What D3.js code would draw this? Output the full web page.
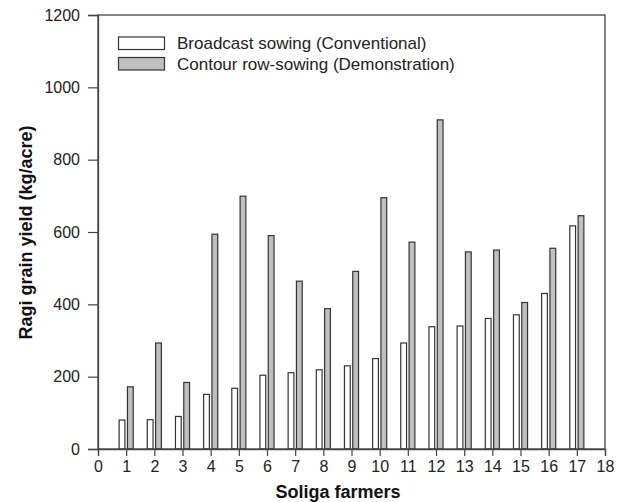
<!DOCTYPE html>
<html><head><meta charset="utf-8">
<script src="https://d3js.org/d3.v7.min.js"></script>
<style>body{margin:0;background:#fff}svg{display:block}text{font-family:"Liberation Sans",Arial,sans-serif}</style>
</head><body><svg id="c" width="617" height="502"></svg>
<script>
const farmers = [1,2,3,4,5,6,7,8,9,10,11,12,13,14,15,16,17];
const broadcast = [80,81,90,151,168,204,211,219,230,250,293,338,340,361,371,430,617];
const contour = [172,293,184,594,699,590,464,388,491,695,572,910,545,550,405,555,645];
const seriesNames = ["Broadcast sowing (Conventional)","Contour row-sowing (Demonstration)"];
const xTicks = d3.range(0,19);
const yTicks = [0,200,400,600,800,1000,1200];

const svg = d3.select("#c");
const L=98, R=605, T=15, B=449;
const x = d3.scaleLinear().domain([0,18]).range([L,R]);
const y = d3.scaleLinear().domain([0,1200]).range([B,T]);
const fills = ["#ffffff","#c0c0c0"];
const off = [[-0.25,-0.045],[0.045,0.25]];

[broadcast, contour].forEach((vals,si)=>{
  svg.append("g").selectAll("rect").data(farmers).join("rect")
    .attr("x",(d)=>x(d+off[si][0]))
    .attr("width",(d)=>x(d+off[si][1])-x(d+off[si][0]))
    .attr("y",(d,i)=>y(vals[i]))
    .attr("height",(d,i)=>y(0)-y(vals[i]))
    .attr("fill",fills[si]).attr("stroke","#333").attr("stroke-width",1.2);
});

// frame
svg.append("rect").attr("x",L).attr("y",T).attr("width",R-L).attr("height",B-T)
  .attr("fill","none").attr("stroke","#444").attr("stroke-width",1.3);

const xa = svg.append("g").attr("transform",`translate(0,${B})`)
  .call(d3.axisBottom(x).tickValues(xTicks).tickSize(7).tickFormat(d3.format("d")));
const ya = svg.append("g").attr("transform",`translate(${L},0)`)
  .call(d3.axisLeft(y).tickValues(yTicks).tickSize(10).tickFormat(d3.format("d")));
[xa,ya].forEach(a=>{
  a.select(".domain").attr("stroke","#444").attr("stroke-width",1.3);
  a.selectAll(".tick line").attr("stroke","#444").attr("stroke-width",1.2);
  a.selectAll(".tick text").attr("fill","#222").style("font-size","16px");
});
xa.selectAll(".tick text").attr("y",11.5);
ya.selectAll(".tick text").attr("x",-18);

svg.append("text").attr("x",338).attr("y",498).attr("text-anchor","middle")
  .style("font-size","18px").style("font-weight","bold").attr("fill","#111").text("Soliga farmers");
svg.append("text").attr("transform","translate(32,232.5) rotate(-90)").attr("text-anchor","middle")
  .style("font-size","18px").style("font-weight","bold").attr("fill","#111").text("Ragi grain yield (kg/acre)");

const leg = svg.append("g");
seriesNames.forEach((n,i)=>{
  leg.append("rect").attr("x",118.5).attr("y",37+i*20.5).attr("width",46).attr("height",12.5)
    .attr("fill",fills[i]).attr("stroke","#333").attr("stroke-width",1.2);
  leg.append("text").attr("x",177).attr("y",49+i*20.5).style("font-size","17px").attr("fill","#222").text(n);
});
</script></body></html>
